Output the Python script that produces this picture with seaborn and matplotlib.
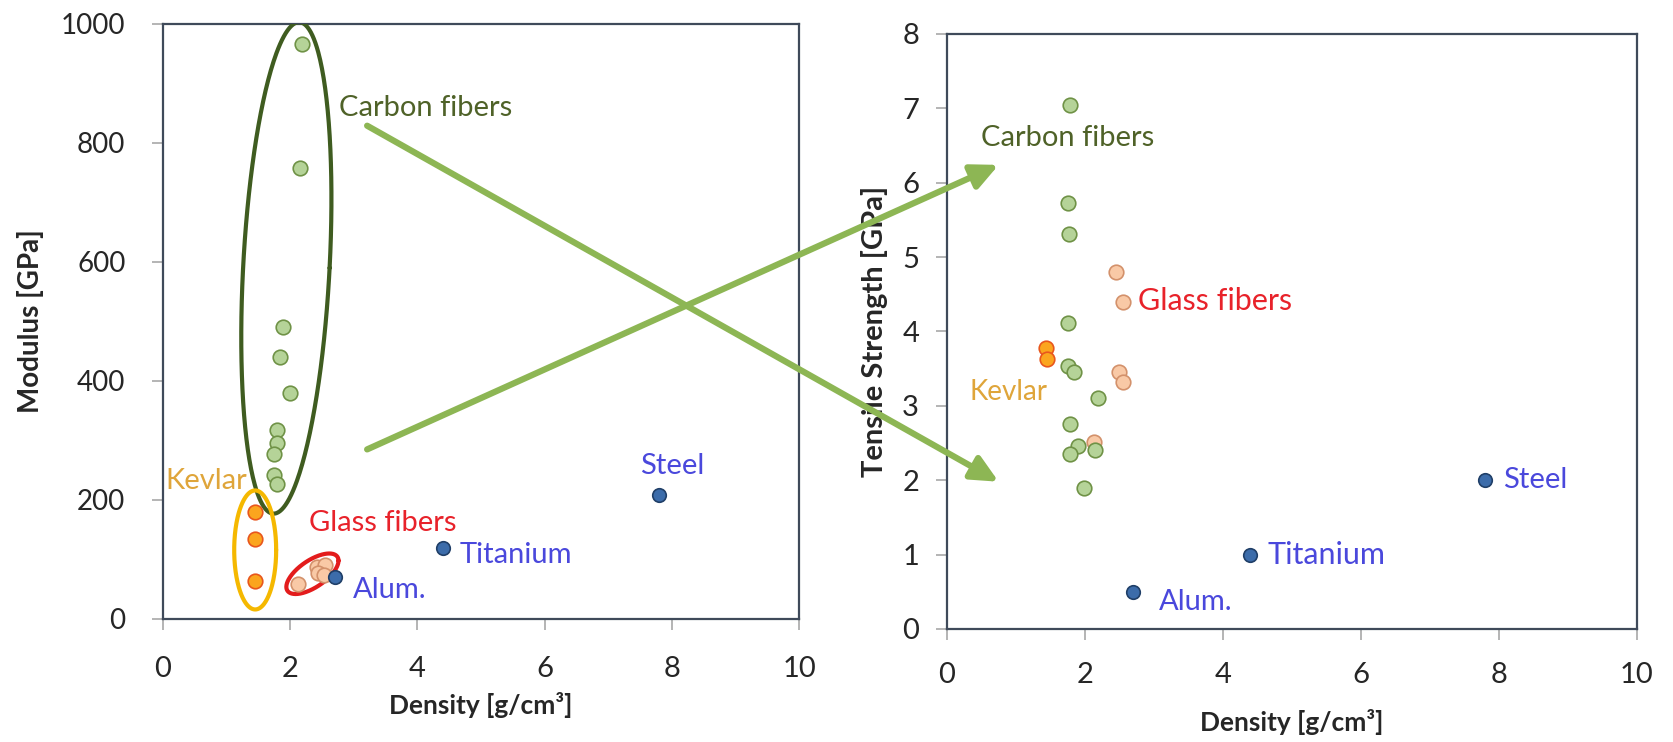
import numpy as np
import pandas as pd
import matplotlib
matplotlib.use("Agg")
import matplotlib.pyplot as plt
import seaborn as sns
from matplotlib.patches import ConnectionPatch

# Modulus vs density (left panel)
carbon_rho_mod = [2.18, 2.15, 1.89, 1.84, 1.99, 1.80, 1.80, 1.75, 1.75, 1.80]
carbon_mod = [966, 758, 491, 441, 380, 318, 296, 278, 242, 227]
kevlar_rho_mod = [1.45, 1.45, 1.45]
kevlar_mod = [180, 134, 64]
glass_rho_mod = [2.13, 2.42, 2.55, 2.44, 2.53]
glass_mod = [59, 88, 91, 77, 74]

# Tensile strength vs density (right panel)
carbon_rho_ts = [1.78, 1.75, 1.77, 1.76, 1.75, 1.84, 2.19, 1.79, 1.90, 1.79, 2.15, 1.99]
carbon_ts = [7.05, 5.73, 5.31, 4.12, 3.53, 3.45, 3.10, 2.75, 2.46, 2.35, 2.41, 1.90]
kevlar_rho_ts = [1.44, 1.45]
kevlar_ts = [3.78, 3.63]
glass_rho_ts = [2.45, 2.55, 2.49, 2.55, 2.13]
glass_ts = [4.80, 4.40, 3.45, 3.32, 2.51]

# metals (same in both)
metals = ["Steel", "Titanium", "Alum."]
metal_rho = [7.8, 4.4, 2.7]
metal_mod = [209, 120, 70]
metal_ts = [2.0, 1.0, 0.5]

x_ticks = [0, 2, 4, 6, 8, 10]
mod_ticks = [0, 200, 400, 600, 800, 1000]
ts_ticks = [0, 1, 2, 3, 4, 5, 6, 7, 8]

sns.set_style("ticks")
plt.rcParams['font.family'] = ['Lato', 'DejaVu Sans']

# colours
fill = {"Carbon": "#b5d398", "Kevlar": "#fba51e", "Glass": "#f9c9a6", "Metal": "#3c6caa"}
edge = {"Carbon": "#6f9246", "Kevlar": "#e8561c", "Glass": "#d3916b", "Metal": "#203f68"}
txt_green = "#4f6228"
txt_gold = "#dfa53a"
txt_red = "#e8222a"
txt_blue = "#4a48dc"
arrow_green = "#8db654"

mod = pd.DataFrame({
    "Density": carbon_rho_mod + kevlar_rho_mod + glass_rho_mod + metal_rho,
    "Value": carbon_mod + kevlar_mod + glass_mod + metal_mod,
    "Material": ["Carbon"] * len(carbon_mod) + ["Kevlar"] * len(kevlar_mod)
                + ["Glass"] * len(glass_mod) + ["Metal"] * len(metal_mod),
})
ts = pd.DataFrame({
    "Density": glass_rho_ts + carbon_rho_ts + kevlar_rho_ts + metal_rho,
    "Value": glass_ts + carbon_ts + kevlar_ts + metal_ts,
    "Material": ["Glass"] * len(glass_ts) + ["Carbon"] * len(carbon_ts)
                + ["Kevlar"] * len(kevlar_ts) + ["Metal"] * len(metal_ts),
})

fig = plt.figure(figsize=(16.73, 7.42), dpi=100)
ax1 = fig.add_axes([0.0974, 0.1658, 0.3802, 0.8019])
ax2 = fig.add_axes([0.5660, 0.1523, 0.4124, 0.8019])

for ax, df in [(ax1, mod), (ax2, ts)]:
    for g in df["Material"].unique():
        sub = df[df["Material"] == g]
        sns.scatterplot(data=sub, x="Density", y="Value", color=fill[g],
                        edgecolor=edge[g], linewidth=1.2,
                        s=110 if g != "Metal" else 95, ax=ax, zorder=4, legend=False)


def ring(ax, cx, cy, rx, ry, sx=0.0, sy=0.0, **kw):
    # outline of a (slightly tilted) ellipse in data units
    t = np.linspace(0, 2 * np.pi, 300)
    x = cx + rx * np.cos(t) + sx * np.sin(t)
    y = cy + ry * np.sin(t) + sy * np.cos(t)
    ax.plot(x, y, **kw)


ring(ax1, 1.94, 590, 0.68, 413, sx=0.2, color="#3f5c20", lw=3, zorder=3)
ring(ax1, 1.45, 116, 0.33, 100, color="#f5b800", lw=3, zorder=3)
ring(ax1, 2.35, 76, 0.41, 26, sy=22, color="#e31c1c", lw=3, zorder=3)

# labels, left
ax1.text(2.76, 858, "Carbon fibers", color=txt_green, fontsize=21, va="center")
ax1.text(0.04, 232, "Kevlar", color=txt_gold, fontsize=21, va="center")
ax1.text(2.30, 162, "Glass fibers", color=txt_red, fontsize=21, va="center")
ax1.text(7.50, 257, "Steel", color=txt_blue, fontsize=21, va="center")
ax1.text(4.67, 108, "Titanium", color=txt_blue, fontsize=21, va="center")
ax1.text(2.99, 48, "Alum.", color=txt_blue, fontsize=21, va="center")

# labels, right
ax2.text(0.49, 6.6, "Carbon fibers", color=txt_green, fontsize=21, va="center")
ax2.text(2.77, 4.41, "Glass fibers", color=txt_red, fontsize=22, va="center")
ax2.text(0.33, 3.19, "Kevlar", color=txt_gold, fontsize=20, va="center")
ax2.text(8.06, 2.0, "Steel", color=txt_blue, fontsize=21, va="center")
ax2.text(4.65, 0.99, "Titanium", color=txt_blue, fontsize=22, va="center")
ax2.text(3.07, 0.36, "Alum.", color=txt_blue, fontsize=21, va="center")

ax1.set_xlim(0, 10)
ax1.set_ylim(0, 1000)
ax1.set_xticks(x_ticks)
ax1.set_yticks(mod_ticks)
ax2.set_xlim(0, 10)
ax2.set_ylim(0, 8)
ax2.set_xticks(x_ticks)
ax2.set_yticks(ts_ticks)

for ax in (ax1, ax2):
    for sp in ax.spines.values():
        sp.set_visible(True)
        sp.set_color("#3f4a5a")
        sp.set_linewidth(1.6)
    ax.tick_params(direction="out", length=8, width=1.2, color="#a8a8a8",
                   labelcolor="#262626", labelsize=21, pad=12)

ax1.tick_params(axis="y", pad=19, labelsize=20)
ax1.tick_params(axis="x", pad=19)
ax2.tick_params(axis="x", pad=16)
ax1.set_xlabel("Density [g/cm³]", fontsize=19, fontweight="bold", labelpad=7)
ax2.set_xlabel("Density [g/cm³]", fontsize=19, fontweight="bold", labelpad=15)
ax1.set_ylabel("Modulus [GPa]", fontsize=20, fontweight="bold", labelpad=12)
ax2.set_ylabel("Tensile Strength [GPa]", fontsize=21, fontweight="bold", labelpad=10)

# the two crossing arrows
for a, b in [((3.21, 829), (0.75, 1.98)), ((3.21, 285), (0.75, 6.24))]:
    con = ConnectionPatch(xyA=a, coordsA=ax1.transData, xyB=b, coordsB=ax2.transData,
                          arrowstyle="-|>,head_length=0.8,head_width=0.38",
                          mutation_scale=20, color=arrow_green, lw=4.5, zorder=10)
    fig.add_artist(con)

fig.savefig("out.png", dpi=100)
